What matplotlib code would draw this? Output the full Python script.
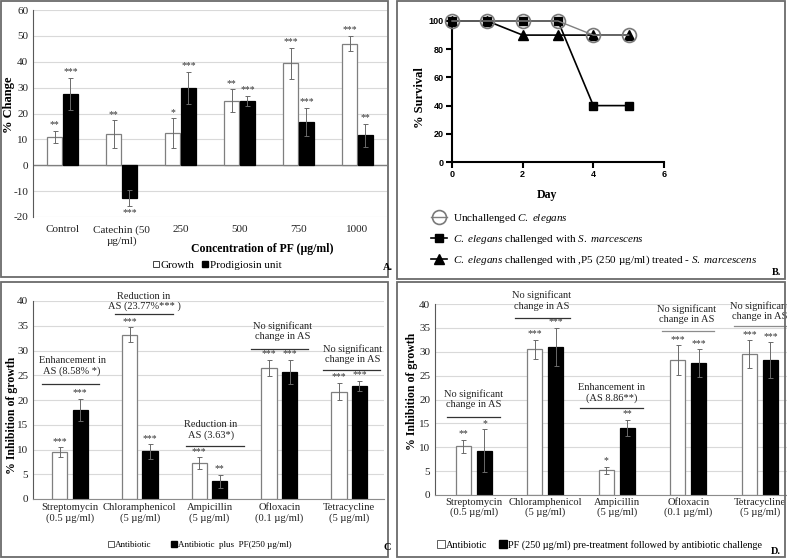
import numpy as np
import matplotlib
matplotlib.use('Agg')
import matplotlib.pyplot as plt
from matplotlib.lines import Line2D
from matplotlib.patches import Rectangle

plt.rcParams['font.family'] = 'Liberation Serif'
plt.rcParams['mathtext.fontset'] = 'custom'
plt.rcParams['mathtext.rm'] = 'Liberation Serif'
plt.rcParams['mathtext.it'] = 'Liberation Serif:italic'
plt.rcParams['axes.unicode_minus'] = False

W, H = 787, 559

# ---- panel A data
a_cats = ['Control', 'Catechin (50\nµg/ml)', '250', '500', '750', '1000']
a_growth = [11.0, 12.0, 12.5, 25.0, 39.5, 47.0]
a_growth_err = [2.3, 5.3, 5.7, 4.3, 6.0, 3.0]
a_prod = [27.5, -12.7, 29.8, 24.8, 16.7, 11.5]
a_prod_err = [6.3, 3.0, 6.3, 2.0, 5.5, 4.6]
a_growth_sig = ['**', '**', '*', '**', '***', '***']
a_prod_sig = ['***', '***', '***', '***', '***', '**']

# ---- panel B data
b_days = [0, 1, 2, 3, 4, 5]
b_unchallenged = [100, 100, 100, 100, 90, 90]
b_challenged = [100, 100, 100, 100, 40, 40]
b_treated = [100, 100, 90, 90, 90, 90]

# ---- panel C data
drugs = ['Streptomycin\n(0.5 µg/ml)', 'Chloramphenicol\n(5 µg/ml)', 'Ampicillin\n(5 µg/ml)',
         'Ofloxacin\n(0.1 µg/ml)', 'Tetracycline\n(5 µg/ml)']
c_anti = [9.5, 33.2, 7.2, 26.5, 21.7]
c_anti_err = [1.0, 1.5, 1.2, 1.6, 1.8]
c_plus = [18.0, 9.6, 3.6, 25.7, 22.9]
c_plus_err = [2.3, 1.5, 1.3, 2.4, 1.0]
c_anti_sig = ['***', '***', '***', '***', '***']
c_plus_sig = ['***', '***', '**', '***', '***']
c_notes = ['Enhancement in\nAS (8.58% *)', 'Reduction in\nAS (23.77%*** )', 'Reduction in\nAS (3.63*)',
           'No significant\nchange in AS', 'No significant\nchange in AS']

# ---- panel D data
d_anti = [10.2, 30.5, 5.2, 28.3, 29.5]
d_anti_err = [1.4, 2.0, 0.7, 3.1, 2.9]
d_pre = [9.3, 31.0, 14.1, 27.6, 28.3]
d_pre_err = [4.5, 4.0, 1.7, 2.9, 3.7]
d_anti_sig = ['**', '***', '*', '***', '***']
d_pre_sig = ['*', '***', '**', '***', '***']
d_notes = ['No significant\nchange in AS', 'No significant\nchange in AS', 'Enhancement in\n(AS 8.86**)',
           'No significant\nchange in AS', 'No significant\nchange in AS']

# annotation placement (text centre, bracket line x0, x1, y)
c_note_pos = [(0.03, 26.8), (1.06, 39.9), (2.02, 13.9), (3.05, 34.0), (4.05, 29.3)]
c_note_line = [(-0.4, 0.415, 23.2), (0.645, 1.475, 37.4), (1.66, 2.49, 10.7), (2.59, 3.41, 30.3), (3.62, 4.44, 26.1)]
d_note_pos = [(-0.01, 20.1), (0.95, 40.7), (1.93, 21.4), (2.98, 37.9), (4.0, 38.6)]
d_note_line = [(-0.38, 0.36, 16.3), (0.58, 1.34, 37.0), (1.48, 2.36, 18.2), (2.63, 3.36, 34.3), (3.64, 4.5, 35.4)]


def rect(l, t, r, b):
    return [l / W, 1 - b / H, (r - l) / W, (b - t) / H]


def border(fig, l, t, r, b):
    fig.add_artist(Rectangle((l / W, 1 - b / H), (r - l) / W, (b - t) / H, transform=fig.transFigure,
                             fill=False, ec='#6b6b6b', lw=1.3))


def paired_bars(ax, v1, e1, v2, e2, s1, s2, w, off):
    x = np.arange(len(v1))
    ekw = dict(ecolor='#6a6a6a', elinewidth=0.7, capsize=1.8, capthick=0.7)
    ax.bar(x - off, v1, w, yerr=e1, color='white', edgecolor='#7f7f7f', lw=0.9, error_kw=ekw, zorder=2)
    ax.bar(x + off, v2, w, yerr=e2, color='black', edgecolor='black', lw=0.9, error_kw=ekw, zorder=2)
    for xs, vals, errs, sigs in [(x - off, v1, e1, s1), (x + off, v2, e2, s2)]:
        for xi, v, e, s in zip(xs, vals, errs, sigs):
            if v >= 0:
                ax.annotate(s, (xi, v + e), xytext=(0, 1), textcoords='offset points',
                            ha='center', va='bottom', fontsize=7, color='#333333')
            else:
                ax.annotate(s, (xi, v - e), xytext=(0, -1.5), textcoords='offset points',
                            ha='center', va='top', fontsize=7, color='#333333')


def style_bar_axes(ax):
    for s in ['top', 'right']:
        ax.spines[s].set_visible(False)
    ax.spines['left'].set_color('#595959')
    ax.spines['bottom'].set_color('#8c8c8c')
    ax.yaxis.grid(True, color='#d9d9d9', lw=0.8)
    ax.set_axisbelow(True)
    ax.tick_params(length=0, labelsize=8, colors='#222222')


fig = plt.figure(figsize=(W / 100, H / 100), dpi=100)

# ================= A
axA = fig.add_axes(rect(33, 10, 387, 217))
paired_bars(axA, a_growth, a_growth_err, a_prod, a_prod_err, a_growth_sig, a_prod_sig, 0.24, 0.135)
style_bar_axes(axA)
axA.spines['bottom'].set_visible(False)
axA.axhline(0, color='#7f7f7f', lw=1.0, zorder=1)
axA.set_ylim(-20, 60)
axA.set_yticks(range(-20, 61, 10))
axA.set_xlim(-0.5, 5.5)
axA.set_xticks(range(len(a_cats)))
axA.set_xticklabels(a_cats, fontsize=8)
axA.tick_params(axis='x', pad=6)
axA.set_ylabel('% Change', fontsize=9, fontweight='bold')
axA.yaxis.set_label_coords(-0.052, 0.54)
axA.set_xlabel('Concentration of PF (µg/ml)', fontsize=8.5, fontweight='bold')
axA.xaxis.set_label_coords(0.647, -0.125)
fig.legend(handles=[Line2D([], [], marker='s', ls='none', mfc='white', mec='#444444', mew=0.7, ms=5, label='Growth'),
                    Line2D([], [], marker='s', ls='none', mfc='black', mec='black', ms=5, label='Prodigiosin unit')],
           loc='center', bbox_to_anchor=(217 / W, 1 - 265 / H), ncol=2, frameon=False, fontsize=8,
           handlelength=0.6, handletextpad=0.15, columnspacing=0.6, borderpad=0, borderaxespad=0)
fig.text(383 / W, 1 - 268 / H, 'A.', fontsize=7.5, fontweight='bold', va='center')

# ================= B
axB = fig.add_axes(rect(452, 21, 664, 162))
axB.plot(b_days, b_challenged, color='black', lw=1.2, marker='s', ms=5.5, clip_on=False, zorder=3)
axB.plot(b_days, b_treated, color='black', lw=1.2, marker='^', ms=6.5, clip_on=False, zorder=3)
axB.plot(b_days, b_unchallenged, color='#808080', lw=1.0, marker='o', ms=10, mfc='none', mec='#7a7a7a',
         mew=1.2, clip_on=False, zorder=4)
axB.set_xlim(0, 6)
axB.set_ylim(0, 100)
axB.set_xticks([0, 2, 4, 6])
axB.set_yticks(range(0, 101, 20))
for s in ['top', 'right']:
    axB.spines[s].set_visible(False)
for s in ['left', 'bottom']:
    axB.spines[s].set_linewidth(1.5)
axB.tick_params(direction='out', length=4, width=1.5, pad=2)
for lab in axB.get_xticklabels() + axB.get_yticklabels():
    lab.set_fontfamily('Liberation Sans')
    lab.set_fontweight('bold')
    lab.set_fontsize(6.5)
axB.set_xlabel('Day', fontsize=8.5, fontweight='bold')
axB.xaxis.set_label_coords(0.45, -0.19)
axB.set_ylabel('% Survival', fontsize=9, fontweight='bold')
axB.yaxis.set_label_coords(-0.123, 0.46)
b_handles = [
    Line2D([], [], color='#808080', lw=1.0, marker='o', ms=10, mfc='none', mec='#7a7a7a', mew=1.2,
           label=r'Unchallenged $\mathit{C.\ elegans}$'),
    Line2D([], [], color='black', lw=1.2, marker='s', ms=5.5,
           label=r'$\mathit{C.\ elegans}$ challenged with $\mathit{S.\ marcescens}$'),
    Line2D([], [], color='black', lw=1.2, marker='^', ms=6.5,
           label=r'$\mathit{C.\ elegans}$ challenged with ,P5 (250 µg/ml) treated - $\mathit{S.\ marcescens}$'),
]
fig.legend(handles=b_handles, loc='upper left', bbox_to_anchor=(431 / W, 1 - 212 / H), frameon=False,
           fontsize=8, handlelength=1.4, handletextpad=0.6, labelspacing=0.7, borderpad=0, borderaxespad=0)
fig.text(772 / W, 1 - 272 / H, 'B.', fontsize=7.5, fontweight='bold', va='center')

# ================= C
axC = fig.add_axes(rect(33, 301, 384, 499))
paired_bars(axC, c_anti, c_anti_err, c_plus, c_plus_err, c_anti_sig, c_plus_sig, 0.22, 0.147)
style_bar_axes(axC)
axC.set_ylim(0, 40)
axC.set_yticks(range(0, 41, 5))
axC.set_xlim(-0.53, 4.5)
axC.set_xticks(range(len(drugs)))
axC.set_xticklabels(drugs, fontsize=7.6, linespacing=1.1)
axC.tick_params(axis='x', pad=3)
axC.set_ylabel('% Inhibition of growth', fontsize=8.5, fontweight='bold')
axC.yaxis.set_label_coords(-0.043, 0.42)
for note, (tx, ty), (x0, x1, ly) in zip(c_notes, c_note_pos, c_note_line):
    axC.text(tx, ty, note, ha='center', va='center', fontsize=7.5, color='#222222', linespacing=1.15)
    axC.plot([x0, x1], [ly, ly], color='#333333', lw=0.9, clip_on=False)
fig.legend(handles=[Line2D([], [], marker='s', ls='none', mfc='white', mec='#444444', mew=0.6, ms=4.5, label='Antibiotic'),
                    Line2D([], [], marker='s', ls='none', mfc='black', mec='black', ms=4.5,
                           label='Antibiotic  plus  PF(250 µg/ml)')],
           loc='center', bbox_to_anchor=(200 / W, 1 - 545 / H), ncol=2, frameon=False, fontsize=6.5,
           handlelength=0.6, handletextpad=0.15, columnspacing=2.2, borderpad=0, borderaxespad=0)
fig.text(383 / W, 1 - 548 / H, 'C', fontsize=7.5, fontweight='bold', va='center')

# ================= D
axD = fig.add_axes(rect(435, 304, 787, 495))
paired_bars(axD, d_anti, d_anti_err, d_pre, d_pre_err, d_anti_sig, d_pre_sig, 0.21, 0.147)
style_bar_axes(axD)
axD.set_ylim(0, 40)
axD.set_yticks(range(0, 41, 5))
axD.set_xlim(-0.545, 4.38)
axD.set_xticks(range(len(drugs)))
axD.set_xticklabels(drugs, fontsize=7.6, linespacing=1.1)
axD.tick_params(axis='x', pad=2)
axD.set_ylabel('% Inhibition of growth', fontsize=8.5, fontweight='bold')
axD.yaxis.set_label_coords(-0.048, 0.54)
for i, (note, (tx, ty), (x0, x1, ly)) in enumerate(zip(d_notes, d_note_pos, d_note_line)):
    axD.text(tx, ty, note, ha='center', va='center', fontsize=7.5, color='#222222', linespacing=1.15)
    axD.plot([x0, x1], [ly, ly], color='#333333' if i < 3 else '#8c8c8c', lw=0.9, clip_on=False)
fig.legend(handles=[Line2D([], [], marker='s', ls='none', mfc='white', mec='#444444', mew=0.6, ms=5.5, label='Antibiotic'),
                    Line2D([], [], marker='s', ls='none', mfc='black', mec='black', ms=5.5,
                           label='PF (250 µg/ml) pre-treatment followed by antibiotic challenge')],
           loc='center', bbox_to_anchor=(600 / W, 1 - 545 / H), ncol=2, frameon=False, fontsize=7.3,
           handlelength=0.6, handletextpad=0.15, columnspacing=1.3, borderpad=0, borderaxespad=0)
fig.text(771 / W, 1 - 552 / H, 'D.', fontsize=7.5, fontweight='bold', va='center')

# panel frames
border(fig, 1, 1, 388, 277)
border(fig, 397, 1, 785, 279)
border(fig, 1, 282, 388, 557)
border(fig, 397, 282, 785, 557)

fig.savefig('out.png', dpi=100)
